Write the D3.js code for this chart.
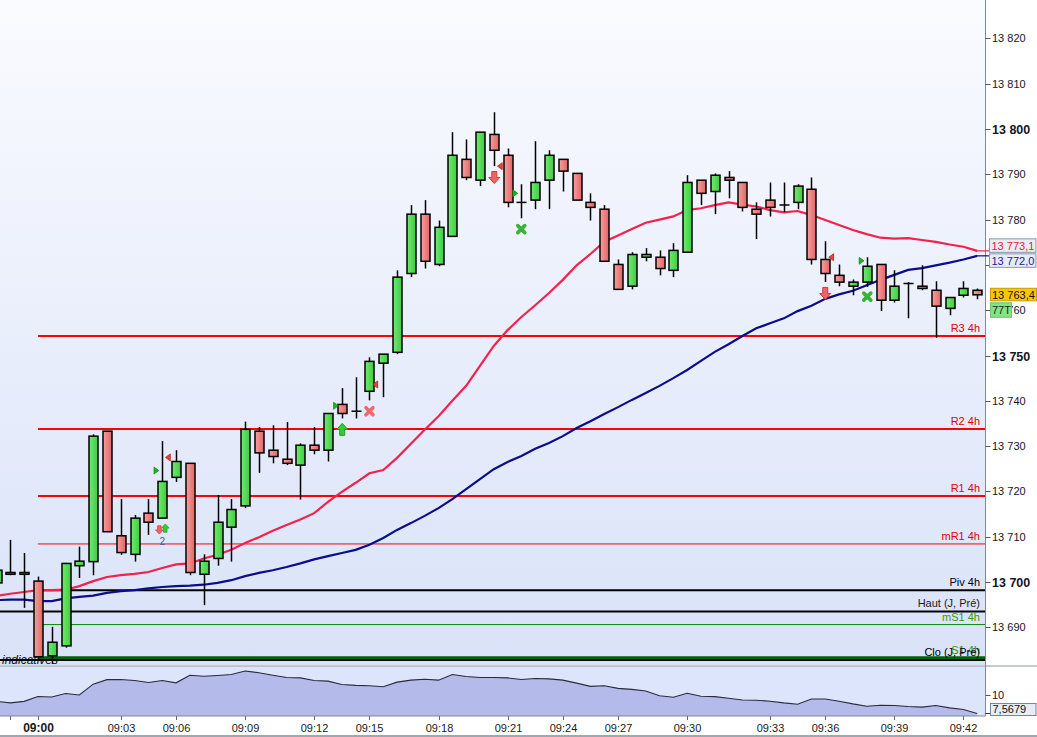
<!DOCTYPE html>
<html><head><meta charset="utf-8">
<script src="https://cdn.jsdelivr.net/npm/d3@7"></script>
<style>html,body{margin:0;padding:0;background:#fff;overflow:hidden}svg{display:block}</style>
</head><body><svg id="c" width="1037" height="737"></svg>
<script>
// ---------- DATA ----------
const opens  = [13699.8,13702.1,13701.7,13700.2,13683.7,13685.9,13703.6,13704.5,13733.3,13710.2,13706.1,13715.2,13714.1,13723.1,13726.2,13701.7,13705.2,13712.1,13716.8,13733.3,13729.1,13727.1,13725.8,13730.2,13729.1,13739.2,13737.7,13742.1,13748.3,13750.7,13768.1,13781.2,13770.1,13776.3,13793.3,13788.7,13798.8,13794.2,13783.8,13784.3,13788.7,13793.3,13790.2,13783.8,13782.3,13770.1,13765.3,13771.7,13771.7,13768.8,13772.8,13788.7,13786.2,13789.3,13788.2,13782.3,13784.3,13783.2,13783.8,13786.7,13771.2,13767.7,13765.3,13766.2,13770.1,13762.2,13765.9,13765.3,13764.4,13760.4,13763.3,13764.4];
const highs  = [13702.6,13709.3,13706.4,13701.2,13690.1,13704.1,13707.8,13732.6,13733.3,13718.3,13714.8,13718.3,13731.1,13729.1,13726.2,13706.1,13719.2,13718.3,13735.4,13734.2,13734.6,13735.3,13730.6,13734.2,13737.2,13742.8,13745.2,13749.6,13750.3,13768.8,13783.2,13784.3,13779.8,13799.3,13797.7,13799.3,13803.7,13795.7,13787.8,13797.3,13795.3,13793.3,13790.2,13785.8,13783.2,13771.2,13772.8,13773.7,13773.2,13774.8,13789.8,13788.7,13790.2,13790.7,13788.2,13783.8,13788.2,13788.2,13787.8,13789.3,13775.2,13770.1,13766.8,13771.7,13770.1,13768.8,13766.2,13769.9,13766.4,13762.8,13766.4,13764.8];
const lows   = [13699.8,13701.5,13694.3,13683.0,13681.9,13685.5,13700.9,13701.5,13711.1,13706.0,13704.5,13710.4,13714.1,13722.1,13701.5,13694.9,13703.6,13704.5,13716.3,13724.1,13726.2,13725.8,13718.2,13728.2,13726.6,13736.1,13736.1,13740.1,13740.8,13750.3,13767.3,13769.2,13769.7,13776.3,13788.7,13787.4,13791.8,13782.7,13780.3,13782.3,13782.3,13786.2,13784.3,13779.8,13770.8,13764.6,13764.6,13770.8,13767.7,13767.3,13772.8,13783.2,13781.2,13784.7,13781.8,13775.7,13780.7,13781.6,13782.3,13770.1,13766.2,13765.3,13763.3,13765.1,13759.8,13761.7,13758.2,13764.4,13753.9,13758.9,13762.8,13762.4];
const closes = [13702.6,13701.7,13702.1,13683.5,13686.7,13704.1,13704.6,13732.2,13711.1,13706.5,13714.1,13713.2,13722.2,13726.6,13702.1,13704.6,13713.2,13716.0,13733.7,13728.5,13727.7,13726.2,13730.2,13729.1,13737.2,13737.2,13737.7,13748.7,13750.3,13767.3,13781.2,13770.8,13778.3,13794.2,13789.3,13799.3,13795.3,13783.8,13783.8,13788.2,13794.2,13790.7,13784.3,13782.7,13770.8,13764.6,13772.3,13772.3,13769.2,13773.2,13788.2,13785.8,13789.8,13788.7,13782.7,13781.2,13782.7,13783.2,13787.4,13771.2,13768.1,13766.2,13766.2,13769.7,13762.2,13765.3,13765.9,13764.8,13760.9,13762.8,13764.8,13763.4];

const maFast = [13696.9,13697.4,13697.8,13698.2,13698.2,13698.3,13699.1,13700.2,13701.1,13701.5,13701.8,13702.2,13703.1,13703.9,13704.1,13705.2,13706.0,13707.1,13708.6,13709.9,13711.3,13712.6,13713.8,13715.2,13717.7,13719.9,13721.9,13724.0,13724.7,13727.4,13730.5,13733.6,13736.6,13740.0,13743.3,13747.7,13752.1,13755.6,13758.5,13761.1,13763.8,13766.7,13769.9,13772.4,13775.1,13776.5,13777.9,13779.3,13780.0,13780.7,13782.1,13782.5,13783.2,13783.8,13783.3,13782.9,13782.1,13781.6,13781.9,13781.0,13779.9,13778.8,13777.7,13776.8,13776.0,13775.8,13775.9,13775.5,13775.1,13774.5,13774.0,13773.1];
const maSlow = [13696.0,13696.1,13696.1,13695.8,13695.8,13696.4,13696.7,13697.0,13697.6,13698.0,13698.2,13698.6,13698.9,13699.1,13699.2,13699.4,13699.8,13700.4,13701.3,13702.0,13702.6,13703.3,13704.1,13705.0,13705.7,13706.4,13707.1,13708.2,13709.7,13711.5,13713.0,13714.6,13716.3,13718.3,13720.5,13722.7,13724.9,13726.5,13727.8,13729.4,13730.7,13732.2,13734.0,13735.5,13737.1,13738.6,13740.2,13741.7,13743.3,13745.0,13746.8,13748.8,13750.8,13752.5,13754.3,13756.0,13757.1,13758.2,13759.8,13761.0,13762.5,13763.5,13764.3,13765.5,13766.7,13767.8,13768.9,13769.3,13769.9,13770.5,13771.2,13772.0];

const indicator = [9.16,8.96,9.16,9.81,9.74,10.20,10.00,11.43,12.02,12.04,11.91,11.65,11.91,11.60,12.60,12.47,12.56,12.69,13.16,12.93,12.60,12.30,12.25,11.91,11.82,11.39,11.26,11.21,11.08,11.69,11.95,12.08,11.95,12.69,12.43,12.30,12.30,12.25,12.04,12.17,12.12,11.95,11.56,11.13,11.21,10.87,10.74,10.52,9.91,9.70,10.22,9.83,9.78,9.57,9.35,9.31,9.18,8.96,8.79,9.48,9.48,9.18,8.83,8.53,8.66,8.61,8.48,8.40,8.61,8.31,8.09,7.5679];

const timeTickIdx    = [1,3,9,13,18,23,27,32,37,41,45,50,56,60,65,70];
const timeTickLabels = ["","09:00","09:03","09:06","09:09","09:12","09:15","09:18","09:21","09:24","09:27","09:30","09:33","09:36","09:39","09:42"];
const priceTicks = [13690,13700,13710,13720,13730,13740,13750,13760,13770,13780,13790,13800,13810,13820];
const indTicks = [10];

const levelNames  = ["R3 4h","R2 4h","R1 4h","mR1 4h","Piv 4h","Haut (J, Pré)","mS1 4h","S1 4h","Clo (J, Pré)"];
const levelValues = [13754.3,13733.8,13719.0,13708.4,13698.2,13693.5,13690.6,13683.3,13682.8];

const markerIdx    = [11.55,12.44,11.79,12.22,24.55,25.03,27.0,27.45,36.04,36.47,37.53,37.99,60.46,60.0,62.6,63.04];
const markerValues = [13724.6,13727.5,13711.5,13711.9,13738.9,13733.7,13737.7,13743.6,13789.3,13791.8,13785.8,13777.9,13771.7,13763.7,13770.9,13763.0];
const markerTypes  = ["triR","triL","downS","upS","triR","up","xRed","triL","down","triL","triR","xGreen","triL","down","triR","xGreen"];
const countNote = {idx:12.0, value:13709.1, text:"2"};

const lastPrice = 13763.4;
const tickCounter = "77T";
const indLast = 7.5679;

// ---------- STYLES ----------
const levelStyle = {
  "R3 4h":{c:"#ff0000",w:2,full:false,tc:"#e00000"},
  "R2 4h":{c:"#ff0000",w:2,full:false,tc:"#e00000"},
  "R1 4h":{c:"#ff0000",w:2,full:false,tc:"#e00000"},
  "mR1 4h":{c:"#ff0000",w:1,full:false,tc:"#e00000"},
  "Piv 4h":{c:"#000000",w:2,full:false,tc:"#000"},
  "Haut (J, Pré)":{c:"#000000",w:2,full:true,tc:"#202020"},
  "mS1 4h":{c:"#008a00",w:1,full:false,tc:"#3a9a00"},
  "S1 4h":{c:"#006400",w:3,full:false,tc:"#2a9a00"},
  "Clo (J, Pré)":{c:"#000000",w:2,full:true,tc:"#000"}
};
const W=1037, plotR=985.5, mainB=665, indT=666.5, indB=716, axB=735;
const font = "Liberation Sans, Arial";

const svg = d3.select("#c");
const defs = svg.append("defs");
const bg = defs.append("linearGradient").attr("id","bg").attr("x1",0).attr("y1",0).attr("x2",0).attr("y2",1);
bg.append("stop").attr("offset","0").attr("stop-color","#fafbff");
bg.append("stop").attr("offset","1").attr("stop-color","#d9e2f8");
const gG = defs.append("linearGradient").attr("id","gG");
gG.append("stop").attr("offset","0").attr("stop-color","#72ea72");
gG.append("stop").attr("offset","1").attr("stop-color","#3fcc3f");
const gR = defs.append("linearGradient").attr("id","gR");
gR.append("stop").attr("offset","0").attr("stop-color","#f6a0a0");
gR.append("stop").attr("offset","1").attr("stop-color","#e46464");
defs.append("clipPath").attr("id","cm").append("rect").attr("x",0).attr("y",0).attr("width",plotR).attr("height",mainB);
defs.append("clipPath").attr("id","ci").append("rect").attr("x",0).attr("y",indT).attr("width",plotR).attr("height",indB-indT);

const x = d3.scaleLinear().domain([0,71]).range([-3.5,977.2]);
const y = d3.scaleLinear().domain([13700,13800]).range([582,129]);
const yi = d3.scaleLinear().domain([indLast,10]).range([713.5,695]);

// backgrounds
svg.append("rect").attr("width",W).attr("height",737).attr("fill","#fff");
svg.append("rect").attr("x",0).attr("y",0).attr("width",plotR).attr("height",mainB).attr("fill","url(#bg)");
svg.append("rect").attr("x",0).attr("y",indT).attr("width",plotR).attr("height",indB-indT).attr("fill","#dce5fb");

const gm = svg.append("g").attr("clip-path","url(#cm)");

gm.append("text").attr("x",2).attr("y",664).attr("font-family",font).attr("font-style","italic")
  .attr("font-size",12).attr("fill","#111").text("indicatives");

// levels
const sessionStart = x(timeTickIdx[1]);
levelNames.forEach((n,k)=>{
  const s = levelStyle[n], yy = y(levelValues[k]);
  gm.append("line").attr("x1", s.full?0:sessionStart).attr("x2",plotR).attr("y1",yy).attr("y2",yy)
    .attr("stroke",s.c).attr("stroke-width",s.w);
});
levelNames.forEach((n,k)=>{
  const s = levelStyle[n], yy = y(levelValues[k]);
  gm.append("text").attr("x",980).attr("y",yy-4).attr("text-anchor","end")
    .attr("font-family",font).attr("font-size",11).attr("fill",s.tc).text(n);
});

// moving averages
const lineGen = arr => d3.line().x((d,i)=>x(i)).y(d=>y(d))(arr);
gm.append("path").attr("d",lineGen(maSlow)).attr("fill","none").attr("stroke","#0c0c8c").attr("stroke-width",2.2);
gm.append("path").attr("d",lineGen(maFast)).attr("fill","none").attr("stroke","#f5204c").attr("stroke-width",2.2);

// candles
const cg = gm.append("g");
opens.forEach((o,i)=>{
  const c = closes[i], cx = Math.round(x(i))+0.5;
  cg.append("line").attr("x1",cx).attr("x2",cx).attr("y1",y(highs[i])).attr("y2",y(lows[i]))
    .attr("stroke","#000").attr("stroke-width",1.5);
  if (Math.abs(o-c) < 0.05) {
    cg.append("line").attr("x1",cx-5).attr("x2",cx+5).attr("y1",y(o)).attr("y2",y(o)).attr("stroke","#000").attr("stroke-width",1.5);
  } else {
    const top = y(Math.max(o,c)), bot = y(Math.min(o,c));
    cg.append("rect").attr("x",cx-4.5).attr("y",top).attr("width",9).attr("height",Math.max(bot-top,1))
      .attr("fill", c>o ? "url(#gG)" : "url(#gR)").attr("stroke","#000").attr("stroke-width",1.5);
  }
});

// markers
const mg = gm.append("g");
markerTypes.forEach((t,k)=>{
  const mx = x(markerIdx[k]), my = y(markerValues[k]);
  const g = mg.append("g").attr("transform",`translate(${mx},${my})`);
  if (t==="triR") g.append("path").attr("d","M-2,-3.5L2.8,0L-2,3.5Z").attr("fill","#22b022").attr("stroke","#159015").attr("stroke-width",0.8);
  else if (t==="triL") g.append("path").attr("d","M2,-3.5L-2.8,0L2,3.5Z").attr("fill","#e84040").attr("stroke","#c02020").attr("stroke-width",0.8);
  else if (t==="down"||t==="downS") {
    const s = t==="down"?1:0.7;
    g.append("path").attr("d","M-2.5,-6L2.5,-6L2.5,0L5.5,0L0,6L-5.5,0L-2.5,0Z").attr("transform",`scale(${s})`)
      .attr("fill","#f06464").attr("stroke","#d43a3a").attr("stroke-width",1);
  } else if (t==="up"||t==="upS") {
    const s = t==="up"?1:0.7;
    g.append("path").attr("d","M-2.5,6L2.5,6L2.5,0L5.5,0L0,-6L-5.5,0L-2.5,0Z").attr("transform",`scale(${s})`)
      .attr("fill","#3cc83c").attr("stroke","#1f9f1f").attr("stroke-width",1);
  } else if (t==="xRed"||t==="xGreen") {
    const col = t==="xRed" ? "#f06868" : "#36b436";
    g.append("path").attr("d","M-3.5,-3.5L3.5,3.5M3.5,-3.5L-3.5,3.5").attr("stroke",col).attr("stroke-width",3.6).attr("stroke-linecap","round");
  }
});
mg.append("text").attr("x",x(countNote.idx)).attr("y",y(countNote.value)+4).attr("text-anchor","middle")
  .attr("font-family",font).attr("font-size",10).attr("fill","#4a5a8a").text(countNote.text);

// indicator panel
const gi = svg.append("g").attr("clip-path","url(#ci)");
gi.append("path").attr("d", d3.area().x((d,i)=>x(i)).y0(indB).y1(d=>yi(d))(indicator)).attr("fill","#b4bbea");
gi.append("path").attr("d", d3.line().x((d,i)=>x(i)).y(d=>yi(d))(indicator)).attr("fill","none").attr("stroke","#2a2a3a").attr("stroke-width",1.1);

// frame lines
svg.append("line").attr("x1",plotR).attr("x2",plotR).attr("y1",0).attr("y2",indB).attr("stroke","#7d8b99").attr("stroke-width",1);
svg.append("line").attr("x1",0).attr("x2",W).attr("y1",666).attr("y2",666).attr("stroke","#8796a6").attr("stroke-width",1.2);
svg.append("line").attr("x1",0).attr("x2",plotR).attr("y1",indB).attr("y2",indB).attr("stroke","#7d8b99").attr("stroke-width",1);
svg.append("rect").attr("x",0).attr("y",axB).attr("width",W).attr("height",2).attr("fill","#9aa9b4");

// last-value boxes positions (computed first so axis labels under them can be skipped)
const fmt1 = v => d3.format(",.1f")(v).replace(",", " ").replace(".", ",");
const boxH = 13.5;
let yF = y(maFast[71]), yS = y(maSlow[71]);
const mid = (yF+yS)/2;
if (Math.abs(yF-yS) < boxH+1) { yF = mid-(boxH+1)/2-0.5; yS = mid+(boxH+1)/2; }
const boxTop = yF-boxH/2, boxBot = yS+boxH/2;

// price axis
priceTicks.forEach(p=>{
  const yy = Math.round(y(p))+0.5, bold = p%50===0;
  svg.append("line").attr("x1",plotR).attr("x2",plotR+5).attr("y1",yy).attr("y2",yy).attr("stroke","#555");
  if (yy > boxTop-4 && yy < boxBot+4) return; // hidden behind the moving-average boxes
  svg.append("text").attr("x",992).attr("y",yy).attr("dy","0.35em").attr("font-family",font)
    .attr("font-size",bold?12.5:11).attr("font-weight",bold?"bold":"normal").attr("fill","#151525")
    .text(d3.format(",")(p).replace(",", " "));
});

svg.append("line").attr("x1",plotR-10).attr("x2",plotR+4).attr("y1",y(maFast[71])).attr("y2",y(maFast[71])).attr("stroke","#f5204c").attr("stroke-width",1.2);
svg.append("line").attr("x1",plotR-10).attr("x2",plotR+4).attr("y1",y(maSlow[71])).attr("y2",y(maSlow[71])).attr("stroke","#0c0c8c").attr("stroke-width",1.2);
[[yF, maFast[71], "#e8203c"],[yS, maSlow[71], "#22229a"]].forEach(([cy,v,col])=>{
  svg.append("rect").attr("x",989.5).attr("y",cy-boxH/2).attr("width",46.5).attr("height",boxH)
    .attr("fill","#e8ecf4").attr("stroke","#8c97aa").attr("stroke-width",1);
  svg.append("text").attr("x",991.5).attr("y",cy).attr("dy","0.36em").attr("font-family",font).attr("font-size",11).attr("fill",col).text(fmt1(v));
});
const yL = y(lastPrice);
svg.append("rect").attr("x",990.5).attr("y",yL-6.5).attr("width",46).attr("height",12.5).attr("fill","#f7c800").attr("stroke","#c89a00");
svg.append("text").attr("x",992).attr("y",yL).attr("dy","0.36em").attr("font-family",font).attr("font-size",11).attr("fill","#111").text(fmt1(lastPrice));
svg.append("rect").attr("x",990.5).attr("y",yL+8).attr("width",21).attr("height",14.5).attr("fill","#86e286").attr("stroke","#6cc46c");
svg.append("text").attr("x",992).attr("y",yL+15.3).attr("dy","0.36em").attr("font-family",font).attr("font-size",11).attr("fill","#1a2a1a").text(tickCounter);

// indicator axis
indTicks.forEach(v=>{
  const yy = Math.round(yi(v))+0.5;
  svg.append("line").attr("x1",plotR).attr("x2",plotR+5).attr("y1",yy).attr("y2",yy).attr("stroke","#555");
  svg.append("text").attr("x",992).attr("y",yy).attr("dy","0.35em").attr("font-family",font).attr("font-size",11).attr("fill","#151525").text(v);
});
const yIL = Math.min(yi(indLast), indB-7);
svg.append("line").attr("x1",plotR).attr("x2",plotR+5).attr("y1",yi(indLast)).attr("y2",yi(indLast)).attr("stroke","#333");
svg.append("rect").attr("x",990.5).attr("y",yIL-5.5).attr("width",45.5).attr("height",12).attr("fill","#e6ecf8").attr("stroke","#7585a0");
svg.append("text").attr("x",992.5).attr("y",yIL+0.5).attr("dy","0.36em").attr("font-family",font).attr("font-size",11).attr("fill","#111")
  .text(d3.format(".4f")(indLast).replace(".", ","));

// time axis
timeTickIdx.forEach((ti,k)=>{
  const xx = Math.round(x(ti))+0.5;
  svg.append("line").attr("x1",xx).attr("x2",xx).attr("y1",indB).attr("y2",indB+4).attr("stroke","#666");
  const lab = timeTickLabels[k];
  if (lab) svg.append("text").attr("x",xx).attr("y",728).attr("dy","0.35em").attr("text-anchor","middle")
    .attr("font-family",font).attr("font-size",lab==="09:00"?12:11).attr("font-weight",lab==="09:00"?"bold":"normal")
    .attr("fill","#1a1a1a").text(lab);
});
</script></body></html>
